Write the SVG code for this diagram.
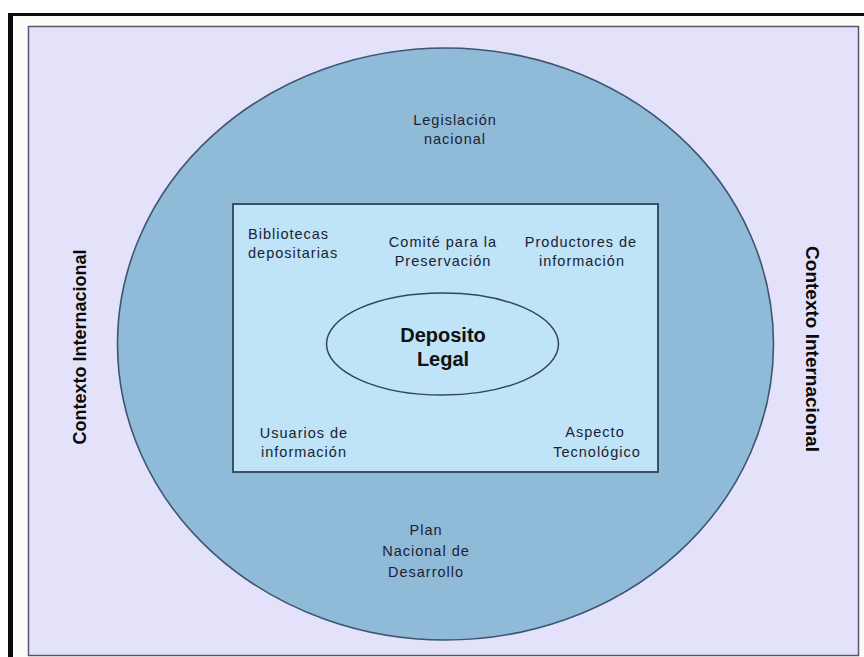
<svg xmlns="http://www.w3.org/2000/svg" width="864" height="657" viewBox="0 0 864 657">
<style>
.lbl{font-family:"Liberation Sans",Arial,sans-serif;font-size:14.5px;letter-spacing:1px;fill:#1c2230}
.mid{text-anchor:middle}
.big{font-family:"Liberation Sans",Arial,sans-serif;font-weight:bold;font-size:20px;fill:#111;text-anchor:middle}
.side{font-family:"Liberation Sans",Arial,sans-serif;font-weight:bold;fill:#0a0a0a;text-anchor:middle}
</style>
<rect x="0" y="0" width="864" height="657" fill="#ffffff"/>
<g id="frame">
<rect x="10" y="14" width="860" height="650" fill="#fbfbf7"/>
<line x1="8" y1="14.5" x2="864" y2="14.5" stroke="#0a0a0a" stroke-width="3"/>
<line x1="10.5" y1="13" x2="10.5" y2="657" stroke="#0a0a0a" stroke-width="5"/>
<rect x="28.5" y="26.5" width="830" height="629" fill="#e4e2fa" stroke="#55586a" stroke-width="1.5"/>
</g>
<g id="contexto-internacional">
<text class="side" font-size="18" transform="translate(86,347) rotate(-90)">Contexto Internacional</text>
<text class="side" font-size="19" transform="translate(806,349) rotate(90)">Contexto Internacional</text>
</g>
<g id="circulo-nacional">
<ellipse cx="445.5" cy="344" rx="328" ry="296" fill="#8fbad8" stroke="#3e5570" stroke-width="1.6"/>
<text class="lbl mid" x="455" y="125">Legislación</text>
<text class="lbl mid" x="455" y="144">nacional</text>
<text class="lbl mid" x="426" y="535">Plan</text>
<text class="lbl mid" x="426" y="556">Nacional de</text>
<text class="lbl mid" x="426" y="577">Desarrollo</text>
</g>
<g id="marco-institucional">
<rect x="233" y="204" width="425" height="268" fill="#bfe3f7" stroke="#3b4f66" stroke-width="2"/>
</g>
<g id="bibliotecas">
<text class="lbl" x="248" y="239">Bibliotecas</text>
<text class="lbl" x="248" y="258">depositarias</text>
</g>
<g id="comite">
<text class="lbl mid" x="443" y="247">Comité para la</text>
<text class="lbl mid" x="443" y="266">Preservación</text>
</g>
<g id="productores">
<text class="lbl mid" x="581" y="247">Productores de</text>
<text class="lbl mid" x="582" y="266">información</text>
</g>
<g id="usuarios">
<text class="lbl mid" x="304" y="438">Usuarios de</text>
<text class="lbl mid" x="304" y="457">información</text>
</g>
<g id="aspecto">
<text class="lbl mid" x="595" y="437">Aspecto</text>
<text class="lbl mid" x="597" y="457">Tecnológico</text>
</g>
<g id="deposito-legal">
<ellipse cx="442.5" cy="344" rx="116" ry="51" fill="#bfe3f7" stroke="#33465c" stroke-width="1.5"/>
<text class="big" x="443" y="342">Deposito</text>
<text class="big" x="443" y="366">Legal</text>
</g>
<g id="connectors"></g>
</svg>
